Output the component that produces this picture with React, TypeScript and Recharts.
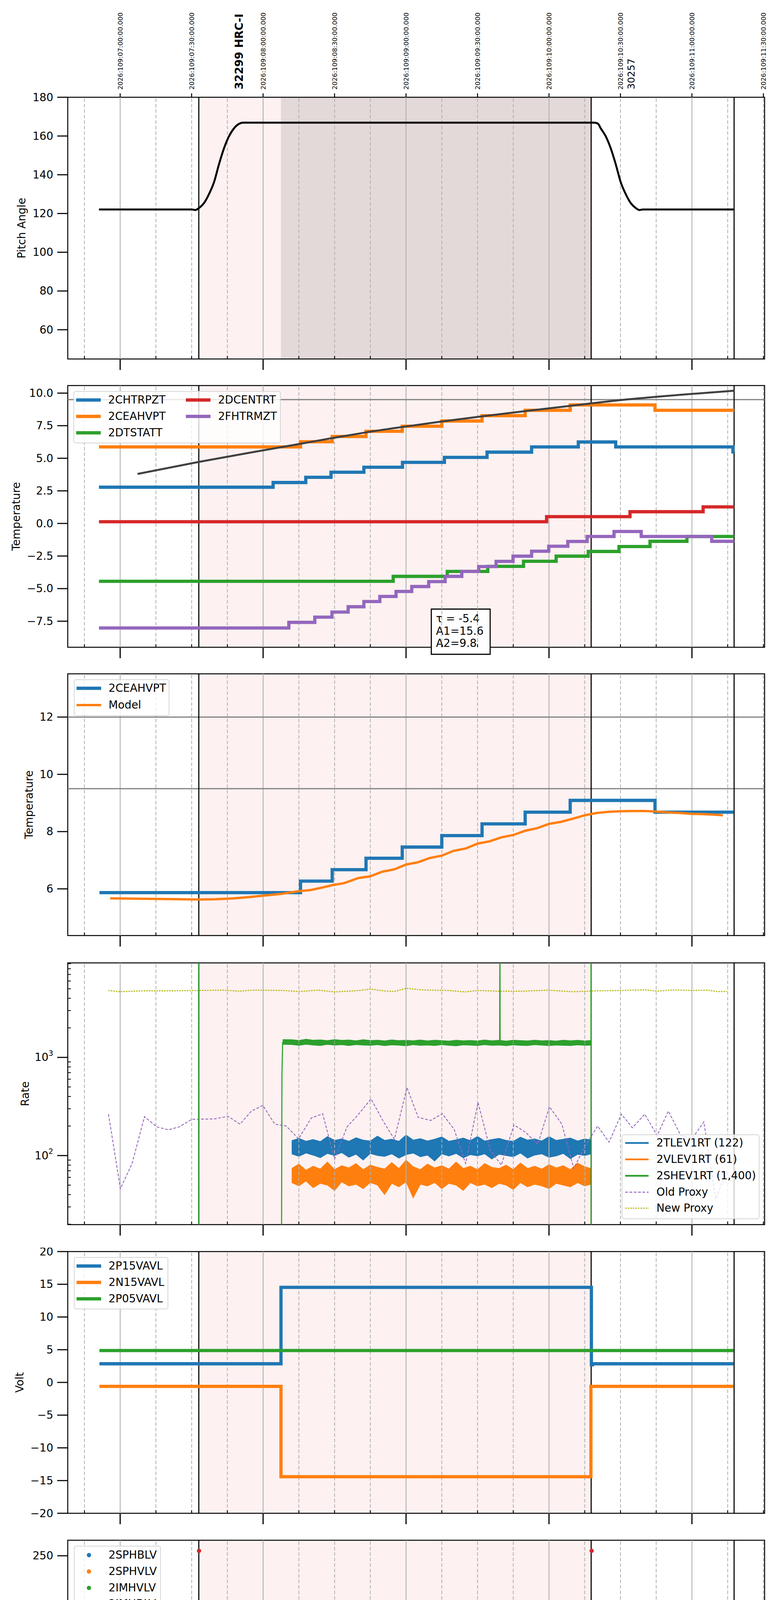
import React from 'react';
import { ComposedChart, Line, Area, Scatter, XAxis, YAxis, ReferenceLine, ReferenceArea, Label } from 'recharts';

const FONT = '"DejaVu Sans", sans-serif';
const FS = 27.8;
const C = { blue: '#1f77b4', orange: '#ff7f0e', green: '#2ca02c', red: '#d62728', purple: '#9467bd', olive: '#bcbd22' };

type Pt = [number, number];

// time axis: minutes after local midnight (2026-04-19)
const X_MIN = 158;
const X_MAX = 450.5;
const hourTicks = [180, 240, 300, 360, 420];
const hourLabels = ['03h', '04h', '05h', '06h', '07h'];
const quarterTicks = [165, 195, 210, 225, 255, 270, 285, 315, 330, 345, 375, 390, 405, 435, 450];
const quarterLabels = ['45', '15', '30', '45', '15', '30', '45', '15', '30', '45', '15', '30', '45', '15', '30'];
const halfHourTicks = [180, 210, 240, 270, 300, 330, 360, 390, 420, 450];
const topTimeLabels = [
  '2026:109:07:00:00.000', '2026:109:07:30:00.000', '2026:109:08:00:00.000', '2026:109:08:30:00.000',
  '2026:109:09:00:00.000', '2026:109:09:30:00.000', '2026:109:10:00:00.000', '2026:109:10:30:00.000',
  '2026:109:11:00:00.000', '2026:109:11:30:00.000',
];
const obsTimes = [229.9, 394.5];
const obsLabels = ['32299 HRC-I', '30257'];
const markerTimes = [213, 377.7, 437.7];
const pinkSpan = [213, 377.7];
const darkSpan = [247.5, 377.7];

const panelTops = [248.5, 986.7, 1725.4, 2464.6, 3203.8, 3943.2, 4682.2, 5420.3];
const PLOT_H = 670;
const yLabels = ['Pitch Angle', 'Temperature', 'Temperature', 'Rate', 'Volt', 'HV Monitor', 'Detector Temp', 'FEA Temp'];
const yLabelX = [55, 41.5, 74, 64, 50, 56, 47, 67.5];

// panel 1: pitch angle
const pitch: Pt[] = [
  [171.1, 122.1], [210.0, 122.1], [211.5, 121.8], [213.1, 122.85], [215.2, 125.4], [217.3, 130.05],
  [219.4, 136.2], [221.5, 145.5], [223.6, 153.7], [225.7, 159.9], [227.8, 164.0], [229.9, 166.3],
  [231.5, 166.9], [379.0, 166.9], [380.6, 166.3], [381.7, 164.0], [383.8, 159.9], [385.9, 153.7],
  [388.0, 145.5], [390.1, 136.2], [392.2, 130.05], [394.3, 125.4], [396.4, 122.85], [398.0, 121.8],
  [399.5, 122.1], [437.7, 122.1],
];

// panel 2: temperatures
const chtrpzt: Pt[] = [[171.1, 2.78], [244.2, 3.14], [257.9, 3.54], [268.5, 3.93], [282.3, 4.31], [298.5, 4.69], [316.1, 5.07], [334.0, 5.47], [352.7, 5.87], [372.3, 6.25], [388.0, 5.87], [437.2, 5.49], [437.7, 5.49]];
const ceahvpt: Pt[] = [[171.1, 5.87], [255.7, 6.27], [269.0, 6.67], [283.2, 7.07], [298.4, 7.46], [315.0, 7.86], [331.9, 8.27], [350.0, 8.68], [368.9, 9.09], [404.5, 8.68], [437.7, 8.68]];
const dtstatt: Pt[] = [[171.1, -4.44], [294.6, -4.06], [317.3, -3.68], [334.3, -3.29], [349.3, -2.9], [363.0, -2.51], [376.5, -2.15], [389.4, -1.77], [402.4, -1.37], [417.9, -1.0], [437.7, -1.0]];
const dcentrt: Pt[] = [[171.1, 0.13], [359.0, 0.52], [394.0, 0.9], [424.7, 1.27], [437.7, 1.27]];
const fhtrmzt: Pt[] = [[171.1, -8.02], [250.8, -7.59], [261.7, -7.19], [268.9, -6.8], [275.7, -6.39], [282.3, -5.99], [289.0, -5.6], [295.8, -5.22], [302.4, -4.84], [309.5, -4.46], [316.4, -4.06], [323.4, -3.68], [330.5, -3.31], [337.8, -2.91], [344.9, -2.51], [352.7, -2.13], [359.9, -1.75], [367.9, -1.38], [376.0, -1.0], [387.3, -0.62], [398.7, -1.0], [428.3, -1.37], [437.7, -1.37]];
const trend: Pt[] = [[187.3, 3.8], [213, 4.72], [235, 5.45], [256, 6.12], [269, 6.55], [283, 6.98], [298.4, 7.4], [315, 7.82], [332, 8.22], [350, 8.62], [368.9, 9.02], [392, 9.5], [415, 9.87], [437.7, 10.18]];
const fitLines = ['τ = -5.4', 'A1=15.6', 'A2=9.8'];

// panel 3: 2CEAHVPT vs model
const ceahvpt3: Pt[] = [[171.3, 5.87], [255.7, 6.27], [269.0, 6.67], [283.2, 7.07], [298.4, 7.46], [315.0, 7.86], [331.9, 8.27], [350.0, 8.68], [368.9, 9.09], [404.5, 8.68], [437.5, 8.68]];
const model: Pt[] = [[175.8, 5.67], [185, 5.66], [195, 5.65], [205, 5.64], [213, 5.63], [220, 5.64], [228, 5.67], [235, 5.72], [242, 5.78], [248, 5.83], [255, 5.92], [260, 5.96], [265, 6.05], [269, 6.13], [274, 6.2], [280, 6.38], [285, 6.44], [290, 6.6], [295, 6.68], [300, 6.85], [305, 6.93], [310, 7.08], [315, 7.16], [320, 7.33], [325, 7.41], [330, 7.58], [335, 7.66], [340, 7.8], [345, 7.88], [350, 8.03], [355, 8.12], [360, 8.27], [365, 8.34], [370, 8.45], [375, 8.57], [380, 8.65], [385, 8.69], [390, 8.71], [395, 8.72], [400, 8.72], [405, 8.7], [410, 8.67], [415, 8.65], [420, 8.62], [425, 8.61], [430, 8.59], [433, 8.57]];

// panel 4: rates (log)
const rateTicks = [20, 30, 40, 50, 60, 70, 80, 90, 100, 200, 300, 400, 500, 600, 700, 800, 900, 1000, 2000, 3000, 4000, 5000, 6000, 7000, 8000, 9000];
const rateMajor = [100, 1000];
const rateExp = ['2', '3'];
const rateT = [252, 255, 258, 261, 264, 267, 270, 273, 276, 279, 282, 285, 288, 291, 294, 297, 300, 303, 306, 309, 312, 315, 318, 321, 324, 327, 330, 333, 336, 339, 342, 345, 348, 351, 354, 357, 360, 363, 366, 369, 372, 375, 377.6];
const tlevHi = [142, 150, 140, 146, 139, 156, 143, 148, 140, 152, 144, 141, 158, 143, 147, 140, 162, 144, 149, 141, 147, 155, 140, 145, 151, 142, 157, 141, 146, 150, 143, 140, 154, 144, 148, 141, 156, 143, 147, 151, 141, 148, 144];
const tlevLo = [104, 98, 106, 101, 95, 105, 100, 107, 96, 103, 90, 105, 100, 98, 104, 94, 102, 106, 97, 101, 88, 104, 99, 105, 95, 102, 99, 104, 92, 103, 100, 97, 106, 94, 101, 104, 96, 99, 105, 93, 103, 100, 104];
const vlevHi = [74, 82, 71, 78, 73, 86, 72, 79, 75, 83, 72, 80, 76, 73, 85, 74, 90, 77, 72, 82, 75, 79, 73, 86, 74, 78, 72, 83, 76, 74, 80, 72, 84, 74, 78, 73, 81, 75, 79, 72, 84, 77, 74];
const vlevLo = [53, 49, 55, 47, 52, 50, 44, 54, 49, 51, 46, 53, 50, 40, 52, 48, 54, 37, 51, 49, 53, 46, 52, 50, 44, 53, 49, 51, 47, 52, 50, 45, 53, 48, 51, 49, 46, 52, 50, 48, 53, 49, 51];
const shevT = [248.2, ...rateT];
const shevHi = [1520, 1515, 1490, 1535, 1500, 1510, 1485, 1520, 1495, 1505, 1480, 1515, 1490, 1500, 1475, 1510, 1485, 1495, 1480, 1505, 1475, 1500, 1485, 1470, 1500, 1480, 1490, 1475, 1505, 1480, 1495, 1470, 1500, 1485, 1475, 1500, 1480, 1490, 1470, 1500, 1480, 1495, 1475, 1490];
const shevLo = [1360, 1350, 1325, 1360, 1335, 1320, 1355, 1330, 1345, 1320, 1350, 1335, 1325, 1345, 1315, 1340, 1330, 1310, 1345, 1325, 1335, 1320, 1345, 1325, 1310, 1340, 1330, 1320, 1345, 1325, 1335, 1315, 1340, 1325, 1320, 1345, 1330, 1315, 1335, 1325, 1320, 1340, 1325, 1330];
const shevLine: Pt[] = [[212.95, 5], [213, 20000], [213.05, 5], [247.7, 5], [247.9, 650], [248.2, 1420], [339.3, 1420], [339.4, 20000], [339.5, 1420], [377.6, 1420], [377.65, 20000], [377.7, 5]];
const oldProxy: Pt[] = [[175.1, 264], [180.1, 46], [185.0, 83], [190.2, 249], [195.4, 196], [200.2, 183], [204.8, 196], [210.0, 234], [219.4, 236], [225.3, 251], [230.3, 209], [235.1, 284], [239.9, 324], [244.9, 209], [249.7, 200], [254.9, 148], [260.2, 241], [265.0, 267], [270.0, 92], [275.2, 196], [280.0, 262], [285.3, 378], [290.5, 222], [295.1, 147], [300.4, 493], [305.1, 245], [310.4, 228], [315.2, 267], [320.2, 185], [325.0, 83], [330.2, 348], [335.4, 113], [340.0, 80], [345.3, 205], [350.0, 174], [355.3, 131], [360.2, 314], [365.4, 209], [370.4, 74], [375.2, 125], [380.4, 200], [385.2, 137], [390.4, 264], [395.0, 192], [400.2, 264], [405.4, 160], [410.1, 284], [415.3, 160], [420.2, 151], [425.0, 220], [430.0, 36], [434.7, 70]];
const newProxy: Pt[] = [[175.0, 4806], [179.6, 4670], [190.0, 4767], [200.5, 4767], [213.0, 4806], [223.5, 4845], [229.8, 4728], [236.0, 4845], [248.6, 4806], [254.9, 4689], [263.2, 4845], [269.9, 4651], [275.8, 4728], [280.4, 4806], [285.2, 4966], [290.4, 4767], [295.0, 4689], [300.2, 5056], [307.1, 4865], [317.6, 4806], [324.9, 4651], [330.1, 4806], [338.5, 4728], [349.0, 4728], [359.4, 4845], [369.9, 4670], [380.3, 4767], [390.8, 4806], [400.2, 4884], [405.4, 4728], [411.7, 4865], [420.1, 4806], [426.3, 4845], [430.5, 4689], [434.7, 4689]];

// panel 5: voltages
const p15vavl: Pt[] = [[171.3, 2.85], [247.5, 14.53], [377.8, 2.7], [378.3, 2.85], [437.5, 2.85]];
const n15vavl: Pt[] = [[171.3, -0.6], [247.5, -14.41], [377.6, -0.6], [437.5, -0.6]];
const p05vavl: Pt[] = [[171.3, 4.87], [437.5, 4.87]];

// panel 6: HV monitors
const sphblv: Pt[] = [];
const sphvlv: Pt[] = [];
const imhvlvDots: Pt[] = [[249.0, 99.5], [249.4, 95.5], [250.1, 90.6], [250.7, 85.7], [251.7, 82.1], [302.7, 127], [306.3, 127], [307.6, 127], [310.9, 127], [338.7, 127]];
const imhvlvRun: Pt[] = [[252.4, 78.9], [377.9, 78.9]];
const imhblvDots: Pt[] = [[213.1, 255], [248.6, 127.1], [248.6, 124], [248.8, 119.2], [249.0, 105.8], [249.1, 104.5], [249.8, 101.1], [250.7, 96.5], [251.1, 93.6], [251.7, 89.6], [252.1, 86.6], [303.0, 79], [304.0, 79], [306.7, 79], [307.6, 79], [310.9, 79], [338.7, 79], [377.9, 255]];
const imhblvRun: Pt[] = [[252.1, 85.3], [377.9, 85.3]];

// dropout times shared by the detector / FEA housekeeping
const dropA = [300.3, 300.9, 301.5, 302.1, 302.7, 303.3, 303.9, 304.5, 305.1, 305.7, 306.3, 306.9, 307.5, 308.1, 308.7];

// panel 7: detector temps
const spinatm: Pt[] = [[248.2, 1.75], [253.4, 2.21], [329.1, 2.69], [372.0, 3.17], [376.8, 3.17]];
const sphvatm: Pt[] = [[247.6, 13.5], [247.9, 13.96], [261.1, 14.38], [261.9, 13.96], [271.6, 14.31], [295.0, 14.65], [312.6, 15.0], [328.0, 15.33], [345.4, 15.67], [361.9, 16.01], [376.8, 16.42], [377.2, 16.42]];
const iminatm: Pt[] = [[248.2, -0.07], [327.2, 0.36], [376.8, 0.36]];
const imhvatm: Pt[] = [[247.5, -5], [247.55, 13.29], [254.4, 13.64], [261.6, 13.98], [267.8, 14.31], [274.3, 14.63], [280.8, 14.99], [288.3, 15.33], [296.7, 15.68], [304.6, 16.04], [315.5, 16.38], [327.2, 16.74], [339.1, 17.11], [352.1, 17.43], [365.9, 17.76], [377.7, 30], [377.85, -5]];

// panel 8: FEA temps
const fhtrmzt8: Pt[] = [[171.2, -7.99], [250.1, -7.58], [261.3, -7.18], [268.9, -6.77], [275.4, -6.38], [282.5, -5.97], [289.0, -5.57], [295.8, -5.19], [302.5, -4.8], [309.0, -4.42], [316.5, -4.04], [323.4, -3.65], [330.1, -3.24], [337.5, -2.87], [345.2, -2.51], [352.7, -2.12], [359.4, -1.74], [367.8, -1.34], [375.7, -0.99], [387.0, -0.6], [398.7, -0.99], [428.0, -1.37], [437.4, -1.37]];
const fradpyt: Pt[] = [[257.0, -9.5], [257.05, -8.81], [263.4, -8.39], [269.9, -7.98], [276.8, -7.58], [283.5, -7.18], [290.4, -6.77], [297.1, -6.38], [304.2, -5.98], [311.7, -5.59], [319.0, -5.19], [326.4, -4.81], [333.7, -4.42], [341.8, -4.04], [349.6, -3.65], [357.7, -3.26], [366.1, -2.88], [374.5, -2.51], [396.0, -2.89], [409.2, -3.26], [425.9, -3.65], [437.4, -3.65]];
const fepratm: Pt[] = [[247.5, -9.5], [247.55, -8.12], [250.7, -7.7], [253.0, -7.29], [255.5, -6.88], [258.4, -6.45], [262.6, -6.03], [267.4, -5.62], [272.9, -5.21], [278.5, -4.79], [284.8, -4.37], [291.7, -3.95], [298.4, -3.54], [309.2, -3.12], [313.4, -2.69], [320.3, -2.27], [328.0, -1.84], [336.4, -1.4], [344.8, -0.97], [353.1, -0.53], [361.9, -0.09], [370.9, 0.36], [377.2, 0.36]];
const fe00atm: Pt[] = [[247.5, -9.5], [247.55, -8.94], [254.9, -8.57], [261.1, -8.19], [266.4, -7.83], [271.2, -7.48], [275.8, -7.12], [280.4, -6.77], [285.8, -6.41], [290.4, -6.05], [296.3, -5.7], [309.2, -5.0], [313.4, -4.65], [317.6, -4.31], [323.4, -3.97], [328.0, -3.63], [336.4, -3.28], [340.6, -2.94], [346.4, -2.6], [353.6, -2.28], [359.4, -1.95], [365.7, -1.62], [371.5, -1.29], [377.3, 2], [377.5, -9.5], [377.9, 2], [378.1, -9.5]];

const toData = (pts: Pt[]) => pts.map(([t, v]) => ({ t, v }));

const baseAt = (steps: Pt[], t: number) => {
  let v = steps[0][1];
  for (const [st, sv] of steps) if (st <= t) v = sv;
  return v;
};

// insert narrow dropouts into a stepped series
const withSpikes = (steps: Pt[], groups: [number[], number][], w = 0.3) => {
  const pts: Pt[] = [...steps];
  groups.forEach(([times, val]) =>
    times.forEach((t) => {
      pts.push([t, val]);
      pts.push([t + w, baseAt(steps, t + w)]);
    }),
  );
  return toData(pts.sort((a, b) => a[0] - b[0]));
};

const band = (times: number[], lo: number[], hi: number[]) => times.map((t, i) => ({ t, r: [lo[i], hi[i]] }));

const minus = (s: string) => s.replace('-', '\u2212');

const line = (data: { t: number; v: number }[], color: string, width = 8.3, type: any = 'stepAfter', dash?: string) => (
  <Line
    data={data}
    dataKey="v"
    type={type}
    stroke={color}
    strokeWidth={width}
    strokeDasharray={dash}
    dot={false}
    activeDot={false}
    isAnimationActive={false}
  />
);

const makeXTick = (labels: boolean) => (props: any) => {
  const { x, y, payload } = props;
  const v = payload.value;
  const hi = hourTicks.indexOf(v);
  if (hi >= 0) {
    return (
      <g>
        <line x1={x} x2={x} y1={y} y2={y + 28} stroke="#000" strokeWidth={3} />
        {labels && (
          <text x={x} y={y + 50} textAnchor="middle" dominantBaseline="central" fontFamily={FONT} fontSize={FS} fill="#000">
            {hourLabels[hi]}
          </text>
        )}
      </g>
    );
  }
  const qi = quarterTicks.indexOf(v);
  return (
    <g>
      <line x1={x} x2={x} y1={y} y2={y - 7.7} stroke="#000" strokeWidth={2.2} />
      {labels && qi >= 0 && (
        <text x={x} y={y + 14} textAnchor="middle" dominantBaseline="central" fontFamily={FONT} fontSize={19.5} fill="#000">
          {quarterLabels[qi]}
        </text>
      )}
    </g>
  );
};

const TopTick = (props: any) => {
  const { x, y, payload } = props;
  const v = payload.value;
  const oi = obsTimes.indexOf(v);
  if (oi >= 0) {
    return (
      <text transform={`translate(${x},${y - 20}) rotate(-90)`} textAnchor="start" dominantBaseline="central" fontFamily={FONT} fontSize={oi === 0 ? FS : 25} fontWeight={oi === 0 ? 'bold' : 'normal'} fill="#000">
        {obsLabels[oi]}
      </text>
    );
  }
  const i = halfHourTicks.indexOf(v);
  return (
    <g>
      <line x1={x} x2={x} y1={y} y2={y - 10} stroke="#000" strokeWidth={2.5} />
      <text transform={`translate(${x},${y - 19.5}) rotate(-90)`} textAnchor="start" dominantBaseline="central" fontFamily={FONT} fontSize={16.7} fill="#000">
        {topTimeLabels[i]}
      </text>
    </g>
  );
};

const makeYTick = (fmt: (v: number) => string) => (props: any) => {
  const { x, y, payload } = props;
  return (
    <g>
      <line x1={x - 27} x2={x} y1={y} y2={y} stroke="#000" strokeWidth={2.8} />
      <text x={x - 37} y={y} textAnchor="end" dominantBaseline="central" fontFamily={FONT} fontSize={FS} fill="#000">
        {fmt(payload.value)}
      </text>
    </g>
  );
};

const LogTick = (props: any) => {
  const { x, y, payload } = props;
  const m = rateMajor.indexOf(payload.value);
  if (m < 0) return <line x1={x} x2={x + 8} y1={y} y2={y} stroke="#000" strokeWidth={2} />;
  return (
    <g>
      <line x1={x - 27} x2={x} y1={y} y2={y} stroke="#000" strokeWidth={2.8} />
      <text x={x - 37} y={y} textAnchor="end" dominantBaseline="central" fontFamily={FONT} fontSize={FS} fill="#000">
        10<tspan dy={-11} fontSize={19.5}>{rateExp[m]}</tspan>
      </text>
    </g>
  );
};

const fitLabel = (props: any) => {
  const { x, y } = props.viewBox;
  return (
    <g>
      {fitLines.map((s, i) => (
        <text key={s} x={x + 12} y={y + 24 + i * 31.8} dominantBaseline="central" fontFamily={FONT} fontSize={FS} fill="#000">
          {s}
        </text>
      ))}
    </g>
  );
};

type PanelProps = {
  idx: number;
  yDomain: [number, number];
  yTicks: number[];
  yFmt?: (v: number) => string;
  log?: boolean;
  hLines?: number[];
  children?: React.ReactNode;
  overlay?: React.ReactNode;
};

function Panel({ idx, yDomain, yTicks, yFmt = (v) => minus(String(v)), log = false, hLines = [], children, overlay }: PanelProps) {
  const first = idx === 0;
  const last = idx === panelTops.length - 1;
  const mt = first ? 248 : 10;
  const xh = last ? 120 : 50;
  return (
    <div style={{ position: 'absolute', left: 0, top: panelTops[idx] - mt }}>
      <ComposedChart width={2000} height={mt + PLOT_H + xh} margin={{ top: 10, right: 42, bottom: 0, left: 73.5 }}>
        <XAxis
          dataKey="t"
          type="number"
          domain={[X_MIN, X_MAX]}
          allowDataOverflow
          ticks={[...hourTicks, ...quarterTicks]}
          interval={0}
          height={xh}
          axisLine={false}
          tickLine={false}
          tickSize={0}
          tickMargin={0}
          tick={makeXTick(last)}
        />
        {first && (
          <XAxis
            xAxisId="top"
            orientation="top"
            dataKey="t"
            type="number"
            domain={[X_MIN, X_MAX]}
            allowDataOverflow
            ticks={[...halfHourTicks, ...obsTimes]}
            interval={0}
            height={238}
            axisLine={false}
            tickLine={false}
            tickSize={0}
            tickMargin={0}
            tick={TopTick}
          />
        )}
        <YAxis
          type="number"
          scale={log ? 'log' : 'linear'}
          domain={yDomain}
          allowDataOverflow
          ticks={yTicks}
          interval={0}
          width={100}
          axisLine={false}
          tickLine={false}
          tickSize={0}
          tickMargin={0}
          tick={log ? LogTick : makeYTick(yFmt)}
        >
          <Label
            content={() => (
              <text
                transform={`translate(${yLabelX[idx]},${mt + PLOT_H / 2}) rotate(-90)`}
                textAnchor="middle"
                dominantBaseline="central"
                fontFamily={FONT}
                fontSize={FS}
                fill="#000"
              >
                {yLabels[idx]}
              </text>
            )}
          />
        </YAxis>
        <ReferenceArea x1={pinkSpan[0]} x2={pinkSpan[1]} fill="#e83c3c" fillOpacity={0.07} stroke="none" ifOverflow="visible" />
        {first && <ReferenceArea x1={darkSpan[0]} x2={darkSpan[1]} fill="#807e7e" fillOpacity={0.2} stroke="none" ifOverflow="visible" />}
        {hourTicks.map((h) => (
          <ReferenceLine key={`h${h}`} x={h} stroke="#b0b0b0" strokeWidth={2.2} />
        ))}
        {quarterTicks.map((q) => (
          <ReferenceLine key={`q${q}`} x={q} stroke="#b0b0b0" strokeWidth={2} strokeDasharray="9 5" />
        ))}
        {hLines.map((h) => (
          <ReferenceLine key={`y${h}`} y={h} stroke="#808080" strokeWidth={3} />
        ))}
        {markerTimes.map((m) => (
          <ReferenceLine key={`m${m}`} x={m} stroke="#000" strokeWidth={2.8} />
        ))}
        {children}
        <ReferenceArea x1={X_MIN} x2={X_MAX} y1={yDomain[0]} y2={yDomain[1]} fill="none" stroke="#000" strokeWidth={2.5} ifOverflow="visible" />
        {overlay}
      </ComposedChart>
    </div>
  );
}

type LegItem = { name: string; color: string; kind?: 'line' | 'dash' | 'dot' | 'marker'; lw?: number };
type LegSpec = { left: number; top: number; width: number; height: number; rows: number[]; items: LegItem[]; colGap?: number; hx?: number; hw?: number; tx?: number };

const legends: LegSpec[] = [
  {
    left: 188, top: 1001, width: 531, height: 134, rows: [23, 64.8, 106.7], colGap: 281.4,
    items: [
      { name: '2CHTRPZT', color: C.blue }, { name: '2CEAHVPT', color: C.orange }, { name: '2DTSTATT', color: C.green },
      { name: '2DCENTRT', color: C.red }, { name: '2FHTRMZT', color: C.purple },
    ],
  },
  { left: 189, top: 1739.3, width: 245, height: 93.3, rows: [23.2, 65.7], items: [{ name: '2CEAHVPT', color: C.blue }, { name: 'Model', color: C.orange, lw: 6 }] },
  {
    left: 1592, top: 2903.5, width: 353, height: 217, rows: [22.3, 64.2, 106.1, 148.2, 189.5], hx: 9, hw: 60, tx: 89,
    items: [
      { name: '2TLEV1RT (122)', color: C.blue, lw: 4.5 }, { name: '2VLEV1RT (61)', color: C.orange, lw: 4.5 },
      { name: '2SHEV1RT (1,400)', color: C.green, lw: 4.5 }, { name: 'Old Proxy', color: C.purple, kind: 'dash', lw: 2.5 },
      { name: 'New Proxy', color: C.olive, kind: 'dot', lw: 3 },
    ],
  },
  { left: 189, top: 3218, width: 242, height: 134, rows: [23, 65, 107], items: [{ name: '2P15VAVL', color: C.blue }, { name: '2N15VAVL', color: C.orange }, { name: '2P05VAVL', color: C.green }] },
  {
    left: 189, top: 3957, width: 223, height: 176, rows: [24, 66, 108, 149],
    items: [
      { name: '2SPHBLV', color: C.blue, kind: 'marker' }, { name: '2SPHVLV', color: C.orange, kind: 'marker' },
      { name: '2IMHVLV', color: C.green, kind: 'marker' }, { name: '2IMHBLV', color: C.red, kind: 'marker' },
    ],
  },
  {
    left: 189, top: 4694.8, width: 247, height: 177, rows: [24.2, 65.2, 107.6, 149.8],
    items: [{ name: '2SPINATM', color: C.blue }, { name: '2SPHVATM', color: C.orange }, { name: '2IMINATM', color: C.green }, { name: '2IMHVATM', color: C.red }],
  },
  {
    left: 189, top: 5433.9, width: 251, height: 176, rows: [23.1, 66, 108, 150],
    items: [{ name: '2FHTRMZT', color: C.blue }, { name: '2FRADPYT', color: C.orange }, { name: '2FEPRATM', color: C.green }, { name: '2FE00ATM', color: C.red }],
  },
];

function LegendBox({ spec }: { spec: LegSpec }) {
  const { left, top, width, height, rows, items, colGap = 0, hx = 6.5, hw = 63.5, tx = 89 } = spec;
  return (
    <div
      style={{
        position: 'absolute', left, top, width, height, boxSizing: 'border-box',
        border: '2.2px solid #d6d6d6', borderRadius: 6, background: 'rgba(255,255,255,0.8)',
      }}
    >
      {items.map((it, i) => {
        const col = Math.floor(i / rows.length);
        const y = rows[i % rows.length] - 2;
        const dx = col * colGap - 2;
        const dash = it.kind === 'dash' ? '7 4' : it.kind === 'dot' ? '4 2.5' : undefined;
        return (
          <React.Fragment key={it.name}>
            <svg style={{ position: 'absolute', left: dx + hx, top: y - 10 }} width={hw} height={20}>
              {it.kind === 'marker' ? (
                <circle cx={hw / 2} cy={10} r={5.5} fill={it.color} />
              ) : (
                <line x1={0} x2={hw} y1={10} y2={10} stroke={it.color} strokeWidth={it.lw ?? 8.3} strokeDasharray={dash} />
              )}
            </svg>
            <span style={{ position: 'absolute', left: dx + tx, top: y - 14, height: 28, fontSize: FS, lineHeight: '28px', whiteSpace: 'nowrap', color: '#000' }}>
              {it.name}
            </span>
          </React.Fragment>
        );
      })}
    </div>
  );
}

const dot = (color: string) => (p: any) => <circle cx={p.cx} cy={p.cy} r={5.5} fill={color} />;

export default function App() {
  return (
    <div style={{ position: 'relative', width: 2000, height: 6200, margin: '-8px 0 0 -8px', background: '#fff', fontFamily: FONT, overflow: 'hidden' }}>
      <Panel idx={0} yDomain={[44.9, 180]} yTicks={[60, 80, 100, 120, 140, 160, 180]}>
        {line(toData(pitch), '#000', 5, 'monotone')}
      </Panel>

      <Panel
        idx={1}
        yDomain={[-9.5, 10.58]}
        yTicks={[-7.5, -5, -2.5, 0, 2.5, 5, 7.5, 10]}
        yFmt={(v) => minus(v.toFixed(1))}
        hLines={[9.5]}
        overlay={<ReferenceArea x1={310.6} x2={335.3} y1={-10.04} y2={-6.57} fill="#fff" fillOpacity={1} stroke="#000" strokeWidth={2.8} ifOverflow="visible" label={fitLabel} />}
      >
        {line(toData(chtrpzt), C.blue)}
        {line(toData(ceahvpt), C.orange)}
        {line(toData(dtstatt), C.green)}
        {line(toData(dcentrt), C.red)}
        {line(toData(fhtrmzt), C.purple)}
        {line(toData(trend), '#404040', 5, 'monotone')}
      </Panel>

      <Panel idx={2} yDomain={[4.37, 13.51]} yTicks={[6, 8, 10, 12]} hLines={[12, 9.5]}>
        {line(toData(ceahvpt3), C.blue)}
        {line(toData(model), C.orange, 6, 'linear')}
      </Panel>

      <Panel idx={3} yDomain={[19.8, 9180]} yTicks={rateTicks} log>
        {line(toData(oldProxy), C.purple, 2.2, 'linear', '7 4')}
        {line(toData(newProxy), C.olive, 3, 'linear', '4 2.5')}
        <Area data={band(rateT, tlevLo, tlevHi)} dataKey="r" type="linear" stroke={C.blue} strokeWidth={1.5} fill={C.blue} fillOpacity={1} dot={false} activeDot={false} isAnimationActive={false} />
        <Area data={band(rateT, vlevLo, vlevHi)} dataKey="r" type="linear" stroke={C.orange} strokeWidth={1.5} fill={C.orange} fillOpacity={1} dot={false} activeDot={false} isAnimationActive={false} />
        <Area data={band(shevT, shevLo, shevHi)} dataKey="r" type="linear" stroke={C.green} strokeWidth={1.5} fill={C.green} fillOpacity={1} dot={false} activeDot={false} isAnimationActive={false} />
        {line(toData(shevLine), C.green, 2.8, 'linear')}
      </Panel>

      <Panel idx={4} yDomain={[-20, 20]} yTicks={[-20, -15, -10, -5, 0, 5, 10, 15, 20]}>
        {line(toData(p15vavl), C.blue)}
        {line(toData(n15vavl), C.orange)}
        {line(toData(p05vavl), C.green)}
      </Panel>

      <Panel idx={5} yDomain={[0, 265.8]} yTicks={[0, 50, 100, 150, 200, 250]}>
        <Scatter data={toData(sphblv)} dataKey="v" fill={C.blue} shape={dot(C.blue)} isAnimationActive={false} />
        <Scatter data={toData(sphvlv)} dataKey="v" fill={C.orange} shape={dot(C.orange)} isAnimationActive={false} />
        <Line data={toData(imhvlvRun)} dataKey="v" type="linear" stroke={C.green} strokeWidth={12} strokeLinecap="round" dot={false} activeDot={false} isAnimationActive={false} />
        <Scatter data={toData(imhvlvDots)} dataKey="v" fill={C.green} shape={dot(C.green)} isAnimationActive={false} />
        <Line data={toData(imhblvRun)} dataKey="v" type="linear" stroke={C.red} strokeWidth={12} strokeLinecap="round" dot={false} activeDot={false} isAnimationActive={false} />
        <Scatter data={toData(imhblvDots)} dataKey="v" fill={C.red} shape={dot(C.red)} isAnimationActive={false} />
      </Panel>

      <Panel idx={6} yDomain={[-1.57, 18.53]} yTicks={[0, 2.5, 5, 7.5, 10, 12.5, 15, 17.5]} yFmt={(v) => v.toFixed(1)}>
        {line(withSpikes(spinatm, [[[...dropA, 310.9, 313.4, 332.2, 335.4, 338.5, 341.2], -5]]), C.blue)}
        {line(withSpikes(sphvatm, [[[...dropA, 309.4], 8.95], [[313.5], 9.3], [[328.1, 332.2, 334.1, 335.4, 338.5, 341.2], 9.61]]), C.orange)}
        {line(withSpikes(iminatm, [[[...dropA, 310.9, 313.4], 2.33], [[332.2, 335.4, 338.5, 341.2], 2.77]]), C.green)}
        {line(withSpikes(imhvatm, [[[...dropA, 310.5, 313.4], 14.63], [[329.7], 16.3], [[333.3, 335.4, 338.5, 341.6], 15.33]]), C.red)}
      </Panel>

      <Panel idx={7} yDomain={[-9.09, 0.53]} yTicks={[-8, -6, -4, -2, 0]}>
        {line(toData(fhtrmzt8), C.blue)}
        {line(toData(fradpyt), C.orange)}
        {line(withSpikes(fepratm, [[[...dropA, 310.9, 313.6, 332.2, 335.4, 338.5], -6.08]]), C.green)}
        {line(withSpikes(fe00atm, [[[...dropA, 310.5, 313.6, 328.1, 332.6, 333.4, 334.2, 335.0, 336.0, 338.5, 341.0], 2], [[346.9], -2.0]]), C.red)}
      </Panel>

      {legends.map((l, i) => (
        <LegendBox key={`lg${i}`} spec={l} />
      ))}
      <div style={{ position: 'absolute', left: 1066, top: 6162, width: 300, marginLeft: -150, height: 34, textAlign: 'center', fontSize: 33, lineHeight: '34px', whiteSpace: 'nowrap', color: '#000' }}>
        2026-04-19 (109)
      </div>
    </div>
  );
}
